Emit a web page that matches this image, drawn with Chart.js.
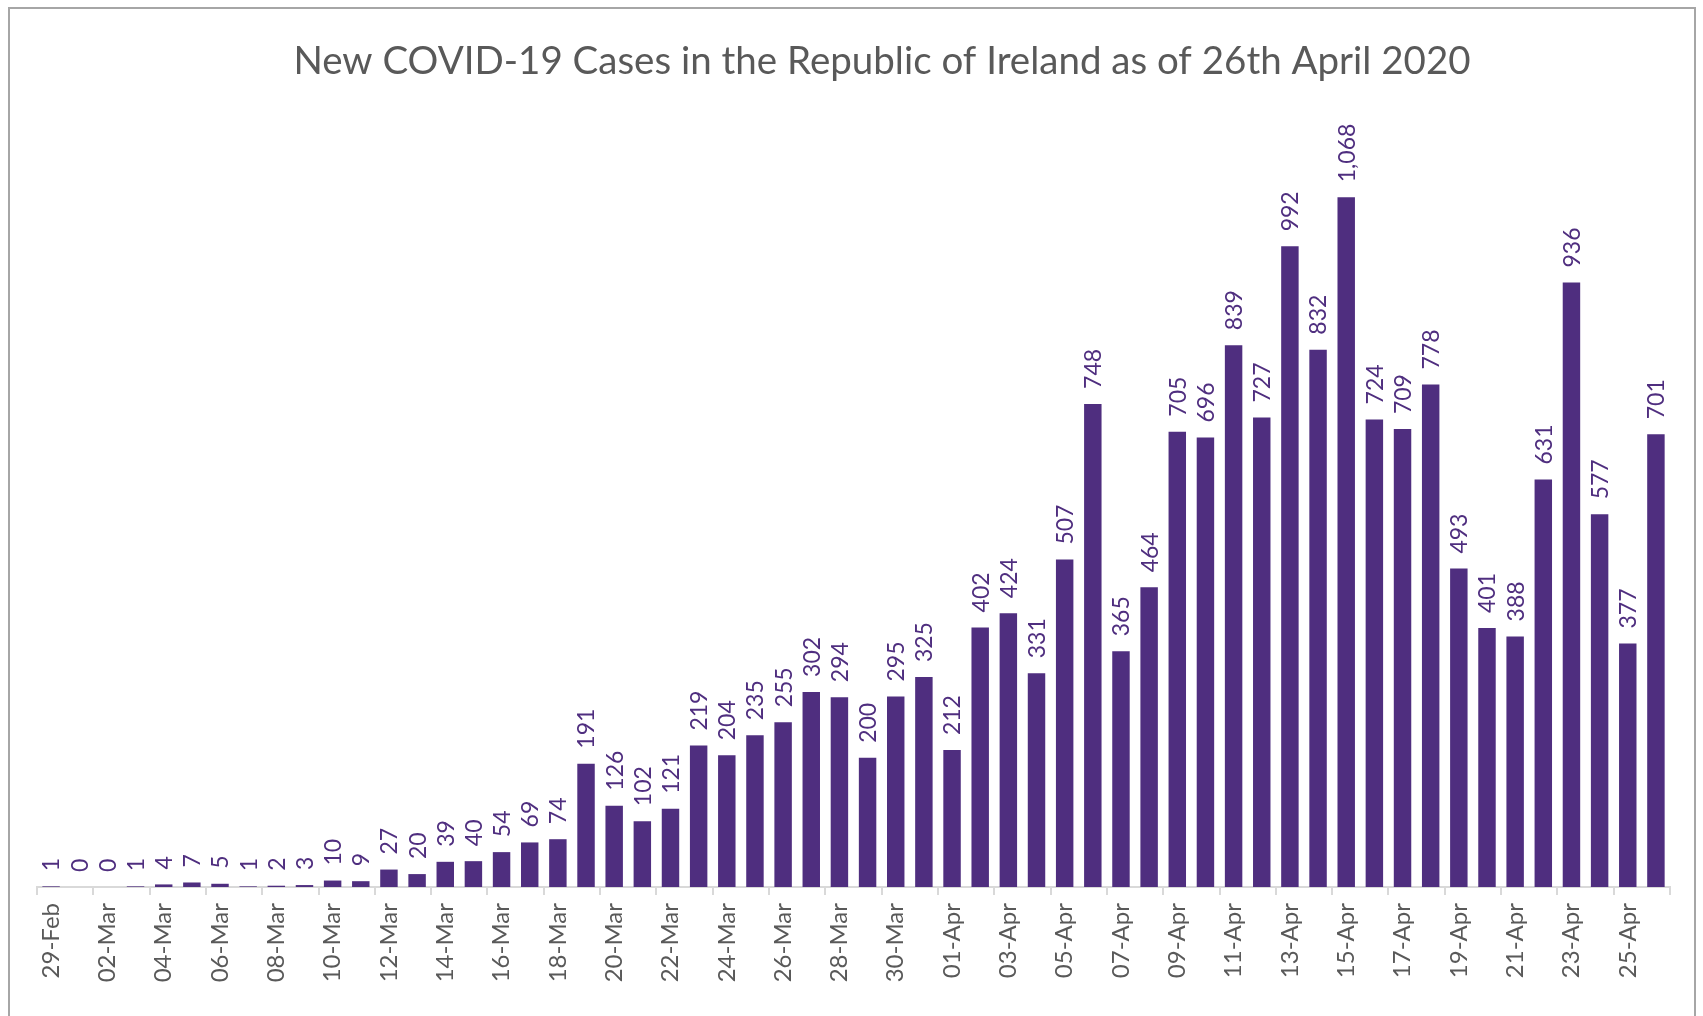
<!DOCTYPE html>
<html>
<head>
<meta charset="utf-8">
<script src="https://cdn.jsdelivr.net/npm/chart.js@4/dist/chart.umd.min.js"></script>
<style>
    body { margin: 0; background: #fff; }
    #cadre {
        position: absolute;
        left: 8px;
        top: 7px;
        width: 1688px;
        height: 1020px;
        border: 2px solid #a6a6a6;
        box-sizing: border-box;
    }
    #graphique { position: absolute; left: 0; top: 0; }
</style>
</head>
<body>
<div id="cadre"></div>
<canvas id="graphique" width="1703" height="1016"></canvas>
<script>
const titre = "New COVID-19 Cases in the Republic of Ireland as of 26th April 2020"

const jours = [
    "29-Feb", "01-Mar", "02-Mar", "03-Mar", "04-Mar", "05-Mar", "06-Mar", "07-Mar", "08-Mar", "09-Mar",
    "10-Mar", "11-Mar", "12-Mar", "13-Mar", "14-Mar", "15-Mar", "16-Mar", "17-Mar", "18-Mar", "19-Mar",
    "20-Mar", "21-Mar", "22-Mar", "23-Mar", "24-Mar", "25-Mar", "26-Mar", "27-Mar", "28-Mar", "29-Mar",
    "30-Mar", "31-Mar", "01-Apr", "02-Apr", "03-Apr", "04-Apr", "05-Apr", "06-Apr", "07-Apr", "08-Apr",
    "09-Apr", "10-Apr", "11-Apr", "12-Apr", "13-Apr", "14-Apr", "15-Apr", "16-Apr", "17-Apr", "18-Apr",
    "19-Apr", "20-Apr", "21-Apr", "22-Apr", "23-Apr", "24-Apr", "25-Apr", "26-Apr"
]

const nouveauxCas = [
    1, 0, 0, 1, 4, 7, 5, 1, 2, 3,
    10, 9, 27, 20, 39, 40, 54, 69, 74, 191,
    126, 102, 121, 219, 204, 235, 255, 302, 294, 200,
    295, 325, 212, 402, 424, 331, 507, 748, 365, 464,
    705, 696, 839, 727, 992, 832, 1068, 724, 709, 778,
    493, 401, 388, 631, 936, 577, 377, 701
]

const violet = "#4f2e7f"
const gris = "#595959"
const police = "Lato, 'Open Sans', sans-serif"

// titre dessiné à la main pour le placer comme dans Excel
const pluginTitre = {
    id: "titre",
    afterDraw(chart) {
        const ctx = chart.ctx
        ctx.save()
        ctx.fillStyle = gris
        ctx.font = `38.5px ${police}`
        ctx.textAlign = "center"
        ctx.textBaseline = "alphabetic"
        ctx.fillText(titre, 882, 74)
        ctx.restore()
    }
}

// étiquettes de valeurs verticales au-dessus des barres
const pluginValeurs = {
    id: "valeurs",
    afterDatasetsDraw(chart) {
        const ctx = chart.ctx
        const meta = chart.getDatasetMeta(0)
        ctx.save()
        ctx.fillStyle = violet
        ctx.font = `23px ${police}`
        ctx.textAlign = "left"
        ctx.textBaseline = "middle"
        meta.data.forEach((barre, i) => {
            ctx.save()
            ctx.translate(barre.x + 1, barre.y - 15)
            ctx.rotate(-Math.PI / 2)
            ctx.fillText(nouveauxCas[i].toLocaleString("en-US"), 0, 0)
            ctx.restore()
        })
        ctx.restore()
    }
}

const data = {
    labels: jours,
    datasets: [{
        label: "New cases",
        data: nouveauxCas,
        backgroundColor: violet,
        barPercentage: 0.62,
        categoryPercentage: 1
    }]
}

const config = {
    type: "bar",
    data: data,
    options: {
        responsive: false,
        animation: false,
        devicePixelRatio: 1,
        layout: {
            padding: { top: 112, left: 37, right: 33, bottom: 0 }
        },
        plugins: {
            legend: { display: false },
            title: { display: false },
            tooltip: { enabled: false }
        },
        scales: {
            x: {
                afterFit: (scale) => { scale.height = 129 },
                border: { display: true, color: "#d9d9d9", width: 2 },
                grid: {
                    offset: true,
                    drawOnChartArea: false,
                    drawTicks: true,
                    tickLength: 8,
                    lineWidth: 2,
                    color: (ctx) => (ctx.index === undefined || ctx.index % 2 === 0) ? "#d9d9d9" : "rgba(0,0,0,0)"
                },
                ticks: {
                    autoSkip: false,
                    maxRotation: 90,
                    minRotation: 90,
                    padding: 8,
                    color: gris,
                    font: { family: police, size: 24 },
                    callback: function (valeur, index) {
                        return index % 2 === 0 ? this.getLabelForValue(valeur) : ""
                    }
                }
            },
            y: {
                display: false,
                min: 0,
                max: 1200
            }
        }
    },
    plugins: [pluginTitre, pluginValeurs]
}

const graphique = new Chart(document.querySelector("#graphique"), config)
</script>
</body>
</html>
